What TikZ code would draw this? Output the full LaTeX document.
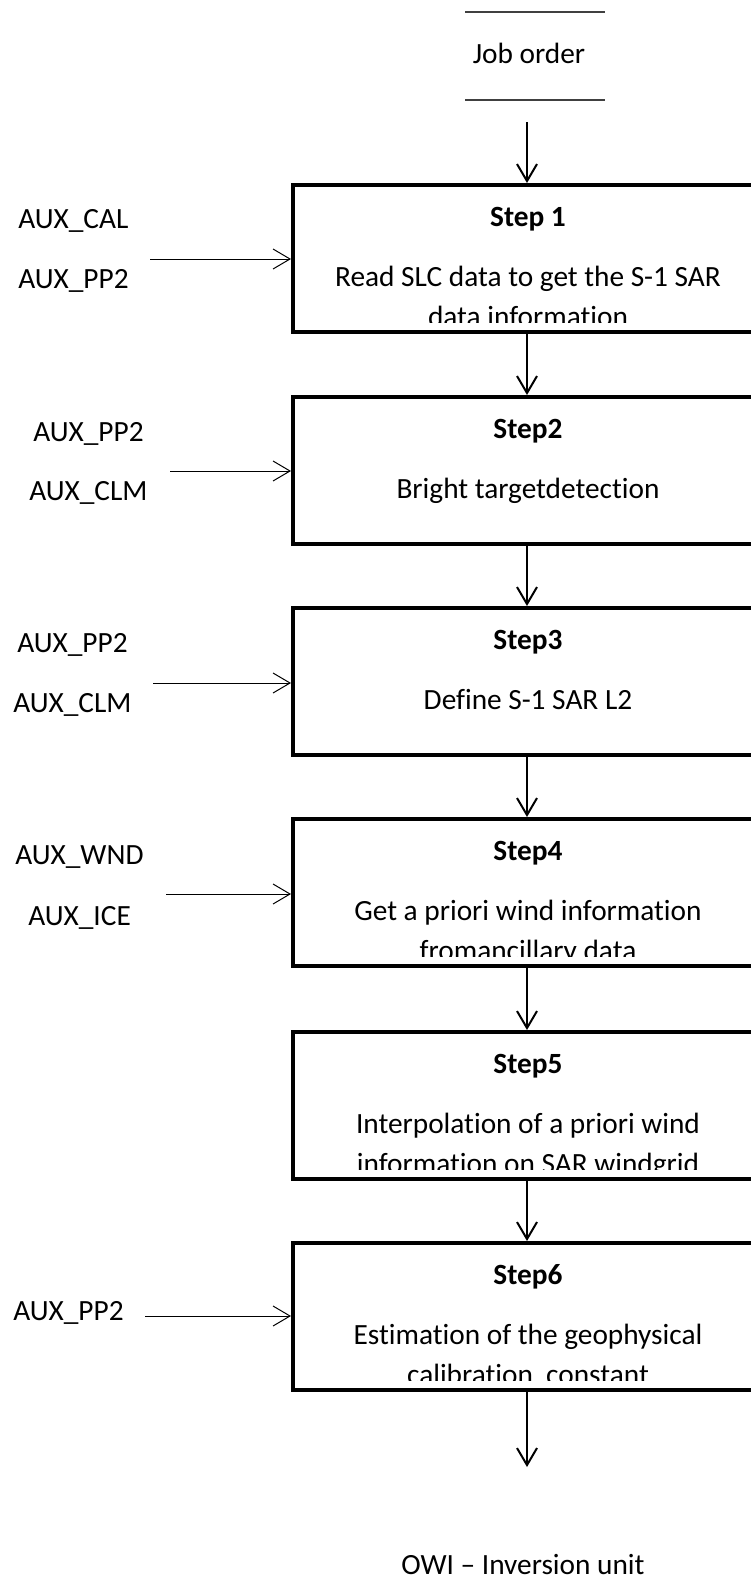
\documentclass[tikz,border=0pt]{standalone}
\usepackage{fontspec}
\setmainfont{Carlito}[Ligatures=NoCommon]
\usetikzlibrary{arrows.meta}

\tikzset{
  stepbox/.style={draw, line width=3pt, rectangle, minimum width=351pt, minimum height=110.25pt, inner sep=0pt},
  txt/.style={anchor=base, inner sep=0pt, font=\fontsize{22}{26}\selectfont},
  steptitle/.style={txt, font=\fontsize{22}{26}\selectfont\bfseries},
  auxlbl/.style={anchor=base west, inner sep=0pt, font=\fontsize{22}{26}\selectfont},
  flow/.style={line width=1.5pt, -{Straight Barb[length=12.75pt, width=15pt, line width=1.5pt]}},
  feed/.style={line width=0.75pt, -{Straight Barb[length=12.75pt, width=15pt, line width=0.75pt]}},
  rule/.style={line width=1pt, draw=black!75}
}

\begin{document}
\begin{tikzpicture}[x=0.75pt, y=-0.75pt]
\useasboundingbox (0,0) rectangle (750,1581);

% job order header with its two rules
\draw[rule] (465,12) -- (605,12);
\node[txt] (job) at (529,63) {Job order};
\draw[rule] (465,100) -- (605,100);
\coordinate (jobout) at (527,122);

% processing steps (the right edges run past the page)
\foreach \i/\t in {1/185, 2/397, 3/608, 4/819, 5/1032, 6/1243} {
  \node[stepbox] (s\i) at (527,\t+73.5) {};
}

% step texts, clipped by the box bottoms
\newcommand{\steptext}[5]{%
  \begin{scope}
    \clip (293,#1) rectangle (770,#1+137);
    \node[steptitle] (t#2) at (528,#1+41) {#3};
    \node[txt] (a#2) at (528,#1+101) {#4};
    \node[txt] (b#2) at (528,#1+141) {#5};
  \end{scope}}
\steptext{185}{1}{Step 1}{Read SLC data to get the S-1 SAR}{data information}
\steptext{397}{2}{Step2}{Bright targetdetection}{}
\steptext{608}{3}{Step3}{Define S-1 SAR L2}{}
\steptext{819}{4}{Step4}{Get a priori wind information}{fromancillary data}
\steptext{1032}{5}{Step5}{Interpolation of a priori wind}{information on SAR windgrid}
\steptext{1243}{6}{Step6}{Estimation of the geophysical}{calibration\ \ constant}

% main flow
\draw[flow] (jobout) -- (s1.north);
\draw[flow] (s1.south) -- (s2.north);
\draw[flow] (s2.south) -- (s3.north);
\draw[flow] (s3.south) -- (s4.north);
\draw[flow] (s4.south) -- (s5.north);
\draw[flow] (s5.south) -- (s6.north);
\coordinate (end) at (527,1467);
\draw[flow] (s6.south) -- (end);
\node[txt] (owi) at (523,1574) {OWI – Inversion unit};

% auxiliary inputs
\node[auxlbl] (x1a) at (18,228) {AUX\_CAL};
\node[auxlbl] (x1b) at (18,288) {AUX\_PP2};
\coordinate (i1) at (150,259);
\draw[feed] (i1) -- (s1.west |- i1);

\node[auxlbl] (x2a) at (33,441) {AUX\_PP2};
\node[auxlbl] (x2b) at (29,500) {AUX\_CLM};
\coordinate (i2) at (170,471);
\draw[feed] (i2) -- (s2.west |- i2);

\node[auxlbl] (x3a) at (17,652) {AUX\_PP2};
\node[auxlbl] (x3b) at (13,712) {AUX\_CLM};
\coordinate (i3) at (153,683);
\draw[feed] (i3) -- (s3.west |- i3);

\node[auxlbl] (x4a) at (15,864) {AUX\_WND};
\node[auxlbl] (x4b) at (28,925) {AUX\_ICE};
\coordinate (i4) at (166,894);
\draw[feed] (i4) -- (s4.west |- i4);

\node[auxlbl] (x6a) at (13,1320) {AUX\_PP2};
\coordinate (i6) at (145,1316);
\draw[feed] (i6) -- (s6.west |- i6);
\end{tikzpicture}
\end{document}
